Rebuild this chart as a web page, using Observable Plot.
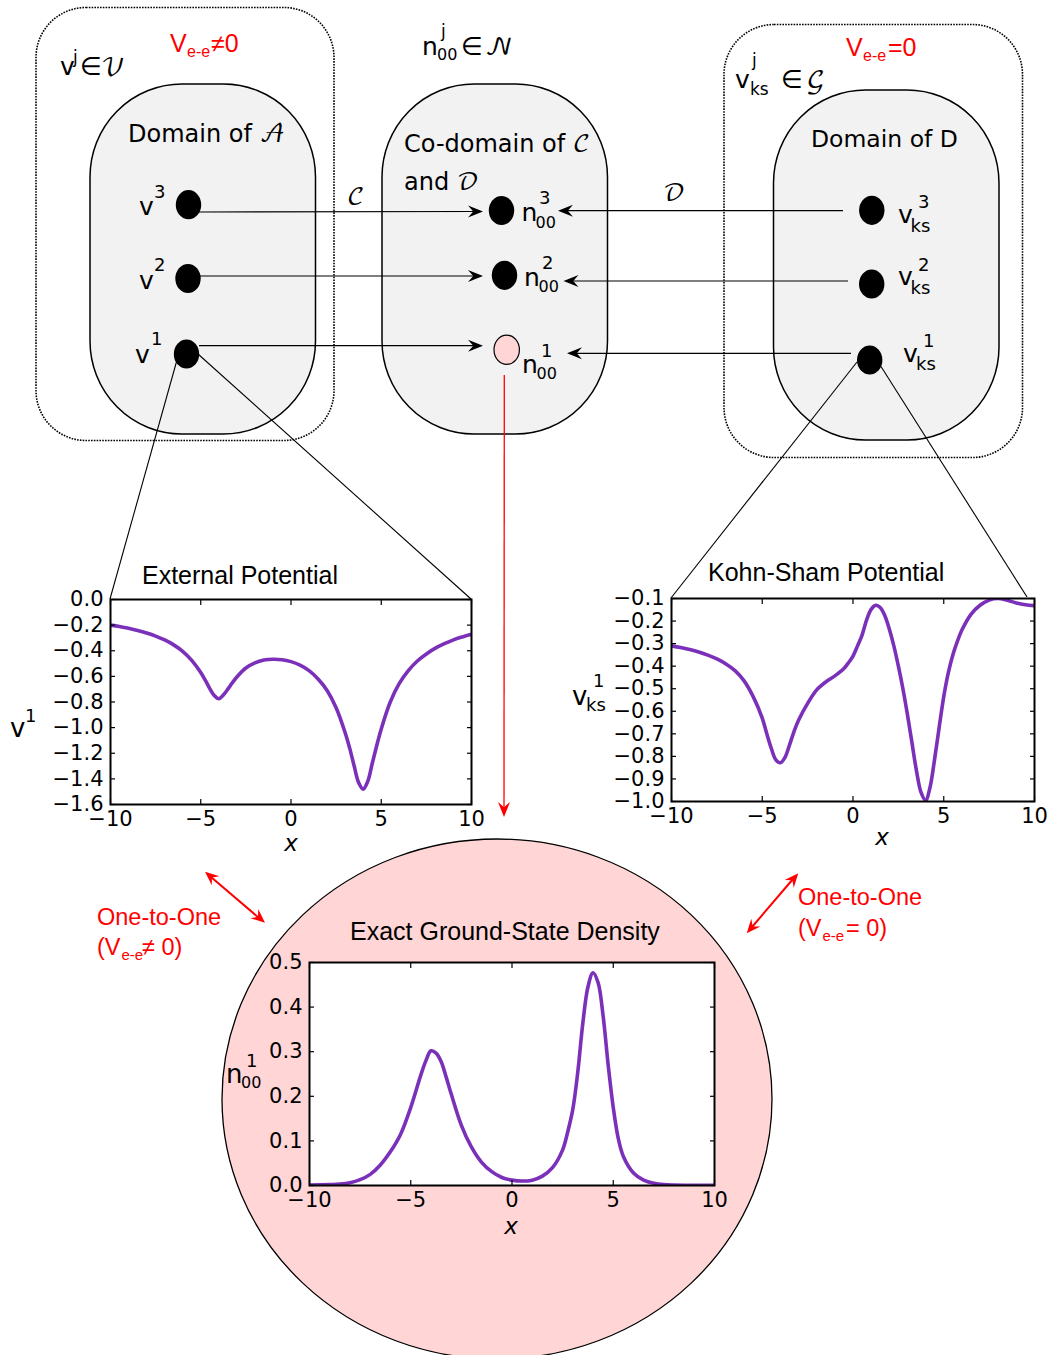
<!DOCTYPE html>
<html><head><meta charset="utf-8">
<script src="https://cdn.jsdelivr.net/npm/d3@7"></script>
<script src="https://cdn.jsdelivr.net/npm/@observablehq/plot@0.6"></script>
<style>
body{margin:0;background:#fff;}
#root{position:relative;width:1052px;height:1355px;overflow:hidden;background:#fff;}
#root > svg{position:absolute;}
</style></head><body><div id="root"></div>
<script>
// ---------- data ----------
const xTicks = [-10, -5, 0, 5, 10];
const yTicksExt = [0, -0.2, -0.4, -0.6, -0.8, -1.0, -1.2, -1.4, -1.6];
const yTicksKs = [-0.1, -0.2, -0.3, -0.4, -0.5, -0.6, -0.7, -0.8, -0.9, -1.0];
const yTicksDen = [0, 0.1, 0.2, 0.3, 0.4, 0.5];

const xExt = [-10,-9.5,-9,-8.5,-8,-7.5,-7,-6.5,-6,-5.5,-5,-4.75,-4.5,-4.25,-4,-3.75,-3.5,-3.25,-3,-2.5,-2,-1.5,-1,-0.5,0,0.5,1,1.5,2,2.5,3,3.25,3.5,3.75,4,4.25,4.5,4.75,5,5.5,6,6.5,7,7.5,8,8.5,9,9.5,10];
const vExt = [-0.20,-0.21,-0.225,-0.242,-0.262,-0.286,-0.316,-0.354,-0.405,-0.475,-0.57,-0.63,-0.695,-0.75,-0.775,-0.745,-0.70,-0.65,-0.605,-0.535,-0.495,-0.473,-0.466,-0.47,-0.485,-0.512,-0.555,-0.62,-0.71,-0.845,-1.04,-1.16,-1.30,-1.43,-1.48,-1.42,-1.28,-1.14,-1.01,-0.80,-0.655,-0.555,-0.48,-0.425,-0.38,-0.345,-0.315,-0.292,-0.272];

const xKs = [-10,-9.5,-9,-8.5,-8,-7.5,-7,-6.5,-6,-5.5,-5,-4.75,-4.5,-4.25,-4,-3.75,-3.5,-3.25,-3,-2.5,-2,-1.5,-1,-0.5,-0.25,0,0.25,0.5,0.75,1,1.25,1.5,1.75,2,2.25,2.5,2.75,3,3.25,3.5,3.75,4,4.25,4.5,4.75,5,5.25,5.5,5.75,6,6.5,7,7.5,8,8.5,9,9.5,10];
const vKs = [-0.31,-0.317,-0.326,-0.337,-0.351,-0.368,-0.39,-0.42,-0.465,-0.535,-0.63,-0.70,-0.765,-0.815,-0.828,-0.805,-0.75,-0.69,-0.64,-0.565,-0.505,-0.47,-0.443,-0.41,-0.385,-0.355,-0.31,-0.262,-0.195,-0.148,-0.13,-0.14,-0.175,-0.235,-0.31,-0.40,-0.50,-0.615,-0.74,-0.865,-0.96,-0.995,-0.935,-0.81,-0.67,-0.535,-0.43,-0.35,-0.29,-0.24,-0.17,-0.13,-0.107,-0.10,-0.108,-0.12,-0.128,-0.132];

const xDen = [-10,-9,-8.5,-8,-7.5,-7,-6.5,-6,-5.5,-5,-4.5,-4.25,-4,-3.75,-3.5,-3.25,-3,-2.5,-2,-1.5,-1,-0.5,0,0.5,1,1.5,2,2.5,2.75,3,3.25,3.5,3.75,4,4.25,4.5,4.75,5,5.25,5.5,6,6.5,7,7.5,8,9,10];
const nDen = [0.001,0.002,0.003,0.006,0.013,0.025,0.046,0.076,0.115,0.175,0.248,0.28,0.302,0.297,0.278,0.243,0.205,0.135,0.086,0.052,0.031,0.018,0.012,0.010,0.012,0.021,0.040,0.080,0.12,0.17,0.255,0.365,0.445,0.477,0.455,0.38,0.27,0.175,0.105,0.065,0.028,0.012,0.005,0.002,0.001,0.0005,0.0003];

// ---------- styles ----------
const DV = "DejaVu Sans";
const LS = "Liberation Sans";
const MATH = "'DejaVu Math TeX Gyre','STIX Two Math','Noto Sans Math','Latin Modern Math',serif";
const RED = "#ff0000";
const PURPLE = "#7b30b9";
const PINK = "#ffd5d5";
const GREY = "#f2f2f2";

const root = document.getElementById("root");
const svg = d3.select(root).append("svg").attr("width", 1052).attr("height", 1355).style("left", "0px").style("top", "0px");

function txt(x, y, parts, size, opts = {}) {
  const t = svg.append("text").attr("x", x).attr("y", y)
    .attr("font-family", opts.family || DV).attr("font-size", size)
    .attr("fill", opts.fill || "black").attr("text-anchor", opts.anchor || "start");
  if (opts.italic) t.attr("font-style", "italic");
  (Array.isArray(parts) ? parts : [parts]).forEach(p => {
    if (typeof p === "string") t.append("tspan").text(p);
    else t.append("tspan").attr("font-family", p.family).text(p.t);
  });
  return t;
}
function head(x, y, ang, color, L = 15, W = 6) {
  svg.append("path").attr("d", `M0,0 L${-L},${-W} L${-L * 0.65},0 L${-L},${W} Z`)
    .attr("fill", color).attr("transform", `translate(${x},${y}) rotate(${ang})`);
}
function line(x1, y1, x2, y2, color = "black", w = 1.2) {
  svg.append("line").attr("x1", x1).attr("y1", y1).attr("x2", x2).attr("y2", y2)
    .attr("stroke", color).attr("stroke-width", w);
}
function dot(cx, cy, fill = "black") {
  svg.append("ellipse").attr("cx", cx).attr("cy", cy).attr("rx", 12.7).attr("ry", 14.6)
    .attr("fill", fill).attr("stroke", "black").attr("stroke-width", fill === "black" ? 0 : 1.2);
}

// ---------- diagram ----------
svg.append("rect").attr("x", 36).attr("y", 7.5).attr("width", 298).attr("height", 433).attr("rx", 50).attr("ry", 50)
  .attr("fill", "none").attr("stroke", "black").attr("stroke-width", 1.6).attr("stroke-dasharray", "1.6,1.2");
svg.append("rect").attr("x", 724).attr("y", 24.5).attr("width", 298.5).attr("height", 433).attr("rx", 50).attr("ry", 50)
  .attr("fill", "none").attr("stroke", "black").attr("stroke-width", 1.6).attr("stroke-dasharray", "1.6,1.2");
[[90, 84], [382, 84], [773.5, 90]].forEach(([x, y]) => {
  svg.append("rect").attr("x", x).attr("y", y).attr("width", 225.5).attr("height", 350).attr("rx", 92).attr("ry", 93)
    .attr("fill", GREY).attr("stroke", "black").attr("stroke-width", 1.5);
});

svg.append("ellipse").attr("cx", 497).attr("cy", 1099).attr("rx", 275).attr("ry", 260)
  .attr("fill", PINK).attr("stroke", "black").attr("stroke-width", 1.3);

[[199, 212, 483, 211.5], [200, 276, 483, 276], [199, 345.7, 483, 345.7]].forEach(([x1, y1, x2, y2]) => {
  line(x1, y1, x2 - 9, y2); head(x2, y2, 0, "black");
});
[[843, 210.7, 558, 210.7], [848, 281, 563.5, 281], [851, 353.3, 567, 353.3]].forEach(([x1, y1, x2, y2]) => {
  line(x1, y1, x2 + 9, y2); head(x2, y2, 180, "black");
});
line(504.3, 375, 504, 808, RED, 1.3); head(504, 817, 90, RED, 15, 6);

line(177, 360, 110, 599, "black", 1.1);
line(198, 354, 471, 599, "black", 1.1);
line(857, 362, 671, 598, "black", 1.1);
line(881, 366.5, 1027, 597, "black", 1.1);

line(211, 877, 259, 918, RED, 2); head(205, 871.7, Math.atan2(871.7 - 922.7, 205 - 265) * 180 / Math.PI, RED, 14, 6);
head(265, 922.7, Math.atan2(922.7 - 871.7, 265 - 205) * 180 / Math.PI, RED, 14, 6);
line(793, 879, 752, 927, RED, 2); head(798.3, 873.3, Math.atan2(873.3 - 933.3, 798.3 - 746.7) * 180 / Math.PI, RED, 14, 6);
head(746.7, 933.3, Math.atan2(933.3 - 873.3, 746.7 - 798.3) * 180 / Math.PI, RED, 14, 6);

dot(188.5, 204.7); dot(188, 278.5); dot(186.5, 354);
dot(501.5, 210.5); dot(504.5, 275.3); dot(506.7, 349.7, PINK);
dot(871.8, 210.3); dot(871.7, 284); dot(869.7, 360);

// ---------- diagram text ----------
txt(60, 75, "v", 25); txt(73, 63, "j", 17); txt(80, 75, "∈", 25); txt(101, 75, [{t: "𝒱", family: MATH}], 25);
txt(170, 52, "V", 25, {family: LS, fill: RED}); txt(187, 57, "e-e", 16, {family: LS, fill: RED}); txt(211, 52, "≠0", 25, {family: LS, fill: RED});
txt(128, 142, ["Domain of ", {t: "𝒜", family: MATH}], 24);
txt(139, 215, "v", 25); txt(154, 198, "3", 18);
txt(139, 289, "v", 25); txt(154, 271, "2", 18);
txt(135, 363, "v", 25); txt(151, 345, "1", 18);

txt(422, 55, "n", 25); txt(437, 60, "00", 16); txt(441, 37, "j", 17); txt(461, 55, "∈", 25); txt(485, 55, [{t: "𝒩", family: MATH}], 25);
txt(404, 152, ["Co-domain of ", {t: "𝒞", family: MATH}], 24);
txt(404, 190, ["and ", {t: "𝒟", family: MATH}], 24);
txt(521.5, 221, "n", 25); txt(535.5, 227.5, "00", 16); txt(539, 204, "3", 18);
txt(524, 286, "n", 25); txt(538.5, 292, "00", 16); txt(542, 269, "2", 18);
txt(522, 373, "n", 25); txt(536.5, 378.5, "00", 16); txt(541, 356.5, "1", 18);
txt(347, 205, [{t: "𝒞", family: MATH}], 24);
txt(663, 201, [{t: "𝒟", family: MATH}], 24);

txt(735, 88, "v", 25); txt(750, 95, "ks", 17); txt(752, 66, "j", 17); txt(781, 88, "∈", 25); txt(806, 88, [{t: "𝒢", family: MATH}], 25);
txt(846, 56, "V", 25, {family: LS, fill: RED}); txt(863, 61, "e-e", 16, {family: LS, fill: RED}); txt(888, 56, "=0", 25, {family: LS, fill: RED});
txt(811, 147, "Domain of D", 23.5);
txt(898, 222.5, "v", 25); txt(910.5, 231.5, "ks", 18); txt(918, 208, "3", 18);
txt(898, 285, "v", 25); txt(910.5, 293.5, "ks", 18); txt(918, 270.5, "2", 18);
txt(903, 361.5, "v", 25); txt(916, 369.5, "ks", 18); txt(923, 346.5, "1", 18);

txt(97, 925, "One-to-One", 23.5, {family: LS, fill: RED});
txt(97, 955, "(V", 23.5, {family: LS, fill: RED}); txt(121.5, 960, "e-e", 15, {family: LS, fill: RED}); txt(142, 955, "≠ 0)", 23.5, {family: LS, fill: RED});
txt(798, 905, "One-to-One", 23.5, {family: LS, fill: RED});
txt(798, 936, "(V", 23.5, {family: LS, fill: RED}); txt(822.5, 941, "e-e", 15, {family: LS, fill: RED}); txt(846, 936, " = 0)", 23.5, {family: LS, fill: RED});

txt(142, 584, "External Potential", 25, {family: LS});
txt(708, 581, "Kohn-Sham Potential", 25, {family: LS});
txt(350, 940, "Exact Ground-State Density", 25, {family: LS});
txt(291, 851, "x", 23, {italic: true, anchor: "middle"});
txt(882, 845, "x", 23, {italic: true, anchor: "middle"});
txt(511, 1234, "x", 23, {italic: true, anchor: "middle"});
txt(10, 737, "v", 26); txt(25, 722, "1", 18);
txt(572, 705, "v", 26); txt(586, 711, "ks", 18); txt(593, 687, "1", 18);
txt(226, 1083, "n", 26); txt(241, 1088, "00", 16); txt(246, 1067, "1", 18);

// ---------- plots ----------
const fmtX = d3.format("d");
const fmtY = d3.format(".1f");
const FS = 21;
function chart(xs, ys, yDomain, yTicks, box, frame, whiteBg) {
  const data = xs.map((x, i) => ({x, y: ys[i]}));
  const [bl, bt, bw, bh] = box;
  const [fl, ft, fr, fb] = frame;
  const p = Plot.plot({
    width: bw, height: bh,
    marginLeft: fl - bl, marginTop: ft - bt, marginRight: bl + bw - fr, marginBottom: bt + bh - fb,
    x: {domain: [-10, 10]},
    y: {domain: yDomain},
    style: {background: "transparent", fontFamily: DV, fontSize: FS + "px", color: "black", overflow: "visible"},
    marks: [
      whiteBg ? Plot.frame({fill: "white", stroke: "none"}) : null,
      Plot.line(data, {x: "x", y: "y", stroke: PURPLE, strokeWidth: 3.6, curve: "catmull-rom", clip: true}),
      Plot.axisX({anchor: "bottom", ticks: xTicks, tickSize: -5, tickPadding: 12, tickFormat: fmtX, label: null, strokeWidth: 1.2, fontSize: FS}),
      Plot.axisX({anchor: "top", ticks: xTicks, tickSize: -5, tickFormat: () => "", label: null, strokeWidth: 1.2}),
      Plot.axisY({anchor: "left", ticks: yTicks, tickSize: -5, tickPadding: 12, tickFormat: fmtY, label: null, strokeWidth: 1.2, fontSize: FS}),
      Plot.axisY({anchor: "right", ticks: yTicks, tickSize: -5, tickFormat: () => "", label: null, strokeWidth: 1.2}),
      Plot.frame({stroke: "black", strokeWidth: 2})
    ]
  });
  p.style.left = bl + "px";
  p.style.top = bt + "px";
  root.append(p);
}
chart(xExt, vExt, [-1.6, 0], yTicksExt, [0, 560, 520, 300], [110, 599, 471, 804], false);
chart(xKs, vKs, [-1.0, -0.1], yTicksKs, [560, 560, 492, 290], [671, 598, 1034, 801], false);
chart(xDen, nDen, [0, 0.5], yTicksDen, [230, 940, 520, 300], [309, 962, 714, 1185], true);
</script></body></html>
